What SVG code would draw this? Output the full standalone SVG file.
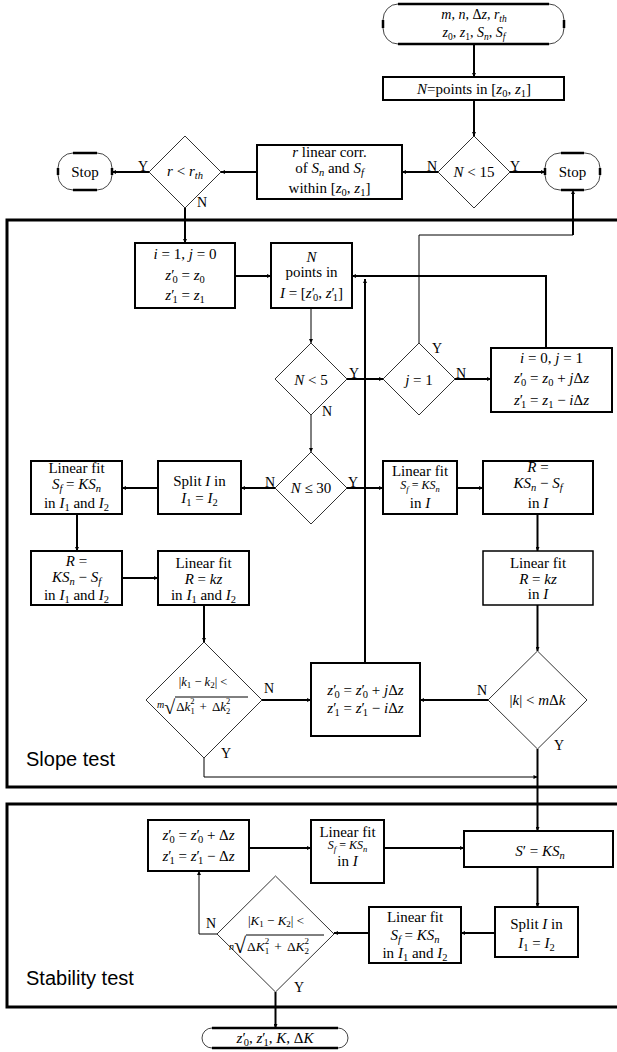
<svg xmlns="http://www.w3.org/2000/svg" width="617" height="1052" viewBox="0 0 617 1052">
<style>
.t{font-family:"Liberation Serif","Times New Roman",serif;font-size:15px;text-anchor:middle;fill:#000}
.ts{font-family:"Liberation Serif","Times New Roman",serif;fill:#000}
.i{font-style:italic}
.s{font-size:10.5px}
.lb{font-family:"Liberation Serif","Times New Roman",serif;font-size:14px;fill:#000;text-anchor:middle}
.sec{font-family:"Liberation Sans",Arial,sans-serif;font-size:20px;fill:#000}
.box{fill:#fff;stroke:#000;stroke-width:2}
.dia{fill:#fff;stroke:#333;stroke-width:1}
.arc{fill:#fff;stroke:#444;stroke-width:1}
.tk{stroke:#000;stroke-width:2.5;fill:none}
.c{fill:none;stroke:#000;stroke-width:2;marker-end:url(#ah)}
.cn{fill:none;stroke:#000;stroke-width:1;marker-end:url(#ah)}
.frame{fill:none;stroke:#000;stroke-width:3}
</style>
<defs>
<marker id="ah" viewBox="0 0 6 6" refX="6" refY="3" markerWidth="5" markerHeight="4" markerUnits="userSpaceOnUse" orient="auto"><path d="M0,0 L6,3 L0,6 z" fill="#000"/></marker>
</defs>
<rect id="rect" x="0" y="0" width="617" height="1052" fill="#fff"/>
<g id="frames">
<rect class="frame" x="7" y="220" width="630" height="567"/>
<rect class="frame" x="7" y="804" width="630" height="203"/>
<text class="sec" x="26" y="766">Slope test</text>
<text class="sec" x="26" y="985">Stability test</text>
</g>
<g id="start">
<rect class="arc" x="383" y="4" width="181" height="40" rx="15" ry="16"/>
<path class="tk" d="M398,4H549M398,44H549M383,20V28M564,20V28"/>
<text class="t" x="474" y="19" style="font-size:14px"><tspan class="i">m</tspan>, <tspan class="i">n</tspan>, Δ<tspan class="i">z</tspan>, <tspan class="i">r</tspan><tspan class="i" style="font-size:9.5px" dy="2.5">th</tspan></text>
<text class="t" x="474" y="37" style="font-size:14px"><tspan class="i">z</tspan><tspan style="font-size:9.5px" dy="2.5">0</tspan><tspan dy="-2.5">, </tspan><tspan class="i">z</tspan><tspan style="font-size:9.5px" dy="2.5">1</tspan><tspan dy="-2.5">, </tspan><tspan class="i">S</tspan><tspan class="i" style="font-size:9.5px" dy="2.5">n</tspan><tspan dy="-2.5">, </tspan><tspan class="i">S</tspan><tspan class="i" style="font-size:9.5px" dy="2.5">f</tspan></text>
</g>
<g id="npts">
<rect class="box" x="383" y="77" width="181" height="23"/>
<text class="t" x="474" y="94"><tspan class="i">N</tspan>=points in [<tspan class="i">z</tspan><tspan class="s" dy="3">0</tspan><tspan dy="-3">, </tspan><tspan class="i">z</tspan><tspan class="s" dy="3">1</tspan><tspan dy="-3">]</tspan></text>
</g>
<g id="d15">
<polygon class="dia" points="474,136 510,172 474,208 438,172"/>
<text class="t" x="474" y="177"><tspan class="i">N</tspan> &lt; 15</text>
</g>
<g id="stopR">
<rect class="arc" x="545" y="153" width="55" height="37" rx="15" ry="15"/>
<path class="tk" d="M561,153H584M561,190H584M545,168V175M600,168V175"/>
<text class="t" x="572.5" y="177">Stop</text>
</g>
<g id="rcorr">
<rect class="box" x="257" y="145" width="145" height="54"/>
<text class="t" x="329.5" y="157"><tspan class="i">r</tspan> linear corr.</text>
<text class="t" x="329.5" y="173">of <tspan class="i">S</tspan><tspan class="s i" dy="3">n</tspan><tspan dy="-3"> and </tspan><tspan class="i">S</tspan><tspan class="s i" dy="3">f</tspan></text>
<text class="t" x="329.5" y="193">within [<tspan class="i">z</tspan><tspan class="s" dy="3">0</tspan><tspan dy="-3">, </tspan><tspan class="i">z</tspan><tspan class="s" dy="3">1</tspan><tspan dy="-3">]</tspan></text>
</g>
<g id="drth">
<polygon class="dia" points="185,136 221,172 185,208 149,172"/>
<text class="t" x="185" y="176"><tspan class="i">r</tspan> &lt; <tspan class="i">r</tspan><tspan class="s i" dy="3">th</tspan></text>
</g>
<g id="stopL">
<rect class="arc" x="58" y="153" width="54" height="37" rx="15" ry="15"/>
<path class="tk" d="M73,153H97M73,190H97M58,168V175M112,168V175"/>
<text class="t" x="85" y="177">Stop</text>
</g>
<g id="init">
<rect class="box" x="135" y="243" width="100" height="65"/>
<text class="t" x="185" y="259"><tspan class="i">i</tspan> = 1, <tspan class="i">j</tspan> = 0</text>
<text class="t" x="185" y="280"><tspan class="i">z</tspan>′<tspan class="s" dx="-2" dy="3">0</tspan><tspan dy="-3"> = </tspan><tspan class="i">z</tspan><tspan class="s" dy="3">0</tspan></text>
<text class="t" x="185" y="300"><tspan class="i">z</tspan>′<tspan class="s" dx="-2" dy="3">1</tspan><tspan dy="-3"> = </tspan><tspan class="i">z</tspan><tspan class="s" dy="3">1</tspan></text>
</g>
<g id="npI">
<rect class="box" x="271" y="243" width="81" height="65"/>
<text class="t" x="311.5" y="262"><tspan class="i">N</tspan></text>
<text class="t" x="311.5" y="277">points in</text>
<text class="t" x="311.5" y="298"><tspan class="i">I</tspan> = [<tspan class="i">z</tspan>′<tspan class="s" dx="-2" dy="3">0</tspan><tspan dy="-3">, </tspan><tspan class="i">z</tspan>′<tspan class="s" dx="-2" dy="3">1</tspan><tspan dy="-3">]</tspan></text>
</g>
<g id="d5">
<polygon class="dia" points="311,343 347,379 311,415 275,379"/>
<text class="t" x="311" y="385"><tspan class="i">N</tspan> &lt; 5</text>
</g>
<g id="dj1">
<polygon class="dia" points="419,343 455,379 419,415 383,379"/>
<text class="t" x="419" y="385"><tspan class="i">j</tspan> = 1</text>
</g>
<g id="reset">
<rect class="box" x="491" y="348" width="121" height="64"/>
<text class="t" x="551.5" y="363"><tspan class="i">i</tspan> = 0, <tspan class="i">j</tspan> = 1</text>
<text class="t" x="551.5" y="383"><tspan class="i">z</tspan>′<tspan class="s" dx="-2" dy="3">0</tspan><tspan dy="-3"> = </tspan><tspan class="i">z</tspan><tspan class="s" dy="3">0</tspan><tspan dy="-3"> + </tspan><tspan class="i">j</tspan>Δ<tspan class="i">z</tspan></text>
<text class="t" x="551.5" y="405"><tspan class="i">z</tspan>′<tspan class="s" dx="-2" dy="3">1</tspan><tspan dy="-3"> = </tspan><tspan class="i">z</tspan><tspan class="s" dy="3">1</tspan><tspan dy="-3"> − </tspan><tspan class="i">i</tspan>Δ<tspan class="i">z</tspan></text>
</g>
<g id="d30">
<polygon class="dia" points="311,452 347,488 311,524 275,488"/>
<text class="t" x="311" y="493"><tspan class="i">N</tspan> ≤ 30</text>
</g>
<g id="split1">
<rect class="box" x="158" y="461" width="83" height="53"/>
<text class="t" x="199.5" y="486">Split <tspan class="i">I</tspan> in</text>
<text class="t" x="199.5" y="503"><tspan class="i">I</tspan><tspan class="s" dy="3">1</tspan><tspan dy="-3"> = </tspan><tspan class="i">I</tspan><tspan class="s" dy="3">2</tspan></text>
</g>
<g id="fitL1">
<rect class="box" x="31" y="461" width="91" height="53"/>
<text class="t" x="76.5" y="473">Linear fit</text>
<text class="t" x="76.5" y="489"><tspan class="i">S</tspan><tspan class="s i" dy="3">f</tspan><tspan dy="-3"> = </tspan><tspan class="i">KS</tspan><tspan class="s i" dy="3">n</tspan></text>
<text class="t" x="76.5" y="508">in <tspan class="i">I</tspan><tspan class="s" dy="3">1</tspan><tspan dy="-3"> and </tspan><tspan class="i">I</tspan><tspan class="s" dy="3">2</tspan></text>
</g>
<g id="fitR1">
<rect class="box" x="383" y="461" width="74" height="53"/>
<text class="t" x="420" y="476">Linear fit</text>
<text class="t" x="420" y="489" style="font-size:12px"><tspan class="i">S</tspan><tspan class="i" style="font-size:8.5px" dy="2.5">f</tspan><tspan dy="-2.5"> = </tspan><tspan class="i">KS</tspan><tspan class="i" style="font-size:8.5px" dy="2.5">n</tspan></text>
<text class="t" x="420" y="508">in <tspan class="i">I</tspan></text>
</g>
<g id="resR">
<rect class="box" x="483" y="461" width="110" height="53"/>
<text class="t" x="538" y="472"><tspan class="i">R</tspan> =</text>
<text class="t" x="538" y="488"><tspan class="i">KS</tspan><tspan class="s i" dy="3">n</tspan><tspan dy="-3"> − </tspan><tspan class="i">S</tspan><tspan class="s i" dy="3">f</tspan></text>
<text class="t" x="538" y="508">in <tspan class="i">I</tspan></text>
</g>
<g id="resL">
<rect class="box" x="31" y="551" width="91" height="54"/>
<text class="t" x="76.5" y="566"><tspan class="i">R</tspan> =</text>
<text class="t" x="76.5" y="582"><tspan class="i">KS</tspan><tspan class="s i" dy="3">n</tspan><tspan dy="-3"> − </tspan><tspan class="i">S</tspan><tspan class="s i" dy="3">f</tspan></text>
<text class="t" x="76.5" y="600">in <tspan class="i">I</tspan><tspan class="s" dy="3">1</tspan><tspan dy="-3"> and </tspan><tspan class="i">I</tspan><tspan class="s" dy="3">2</tspan></text>
</g>
<g id="fitL2">
<rect class="box" x="158" y="551" width="91" height="54"/>
<text class="t" x="203.5" y="568">Linear fit</text>
<text class="t" x="203.5" y="584"><tspan class="i">R</tspan> = <tspan class="i">kz</tspan></text>
<text class="t" x="203.5" y="600">in <tspan class="i">I</tspan><tspan class="s" dy="3">1</tspan><tspan dy="-3"> and </tspan><tspan class="i">I</tspan><tspan class="s" dy="3">2</tspan></text>
</g>
<g id="fitR2">
<rect class="box" x="483" y="551" width="110" height="54" style="stroke-width:1.5"/>
<text class="t" x="538" y="568">Linear fit</text>
<text class="t" x="538" y="584"><tspan class="i">R</tspan> = <tspan class="i">kz</tspan></text>
<text class="t" x="538" y="599">in <tspan class="i">I</tspan></text>
</g>
<g id="dk12">
<polygon class="dia" points="204,642 262,700 204,758 146,700"/>
<text class="t" x="203" y="686" style="font-size:12.5px">|<tspan class="i">k</tspan><tspan style="font-size:9px" dy="2">1</tspan><tspan dy="-2"> − </tspan><tspan class="i">k</tspan><tspan style="font-size:9px" dy="2">2</tspan><tspan dy="-2">| &lt;</tspan></text>
<line x1="175" y1="697" x2="248" y2="697" stroke="#000" stroke-width="1"/>
<text class="ts" x="157" y="708" style="font-size:13px"><tspan class="i" style="font-size:10px">m</tspan><tspan style="font-size:20px" dy="6">√</tspan><tspan dy="-3" dx="1">Δ</tspan><tspan class="i">k</tspan><tspan style="font-size:8.5px" dy="3">1</tspan><tspan style="font-size:8.5px" dx="-4.3" dy="-10">2</tspan><tspan dy="7" dx="5">+</tspan><tspan dx="5">Δ</tspan><tspan class="i">k</tspan><tspan style="font-size:8.5px" dy="3">2</tspan><tspan style="font-size:8.5px" dx="-4.3" dy="-10">2</tspan></text>
</g>
<g id="upd">
<rect class="box" x="311" y="663" width="109" height="73"/>
<text class="t" x="365.5" y="695"><tspan class="i">z</tspan>′<tspan class="s" dx="-2" dy="3">0</tspan><tspan dy="-3"> = </tspan><tspan class="i">z</tspan>′<tspan class="s" dx="-2" dy="3">0</tspan><tspan dy="-3"> + </tspan><tspan class="i">j</tspan>Δ<tspan class="i">z</tspan></text>
<text class="t" x="365.5" y="713"><tspan class="i">z</tspan>′<tspan class="s" dx="-2" dy="3">1</tspan><tspan dy="-3"> = </tspan><tspan class="i">z</tspan>′<tspan class="s" dx="-2" dy="3">1</tspan><tspan dy="-3"> − </tspan><tspan class="i">i</tspan>Δ<tspan class="i">z</tspan></text>
</g>
<g id="dk">
<polygon class="dia" points="537.5,651 587,700 537.5,749 488,700"/>
<text class="t" x="537.5" y="705">|<tspan class="i">k</tspan>| &lt; <tspan class="i">m</tspan>Δ<tspan class="i">k</tspan></text>
</g>
<g id="updS">
<rect class="box" x="148" y="820" width="101" height="51"/>
<text class="t" x="198.5" y="840"><tspan class="i">z</tspan>′<tspan class="s" dx="-2" dy="3">0</tspan><tspan dy="-3"> = </tspan><tspan class="i">z</tspan>′<tspan class="s" dx="-2" dy="3">0</tspan><tspan dy="-3"> + Δ</tspan><tspan class="i">z</tspan></text>
<text class="t" x="198.5" y="861"><tspan class="i">z</tspan>′<tspan class="s" dx="-2" dy="3">1</tspan><tspan dy="-3"> = </tspan><tspan class="i">z</tspan>′<tspan class="s" dx="-2" dy="3">1</tspan><tspan dy="-3"> − Δ</tspan><tspan class="i">z</tspan></text>
</g>
<g id="fitS1">
<rect class="box" x="311" y="820" width="73" height="63"/>
<text class="t" x="347.5" y="837">Linear fit</text>
<text class="t" x="347.5" y="849" style="font-size:12px"><tspan class="i">S</tspan><tspan class="i" style="font-size:8.5px" dy="2.5">f</tspan><tspan dy="-2.5"> = </tspan><tspan class="i">KS</tspan><tspan class="i" style="font-size:8.5px" dy="2.5">n</tspan></text>
<text class="t" x="347.5" y="866">in <tspan class="i">I</tspan></text>
</g>
<g id="sprime">
<rect class="box" x="464" y="831" width="149" height="36"/>
<text class="t" x="540" y="856"><tspan class="i">S</tspan>′ = <tspan class="i">KS</tspan><tspan class="s i" dy="3">n</tspan></text>
</g>
<g id="splitS">
<rect class="box" x="495" y="907" width="83" height="50"/>
<text class="t" x="536.5" y="929">Split <tspan class="i">I</tspan> in</text>
<text class="t" x="536.5" y="948"><tspan class="i">I</tspan><tspan class="s" dy="3">1</tspan><tspan dy="-3"> = </tspan><tspan class="i">I</tspan><tspan class="s" dy="3">2</tspan></text>
</g>
<g id="fitS2">
<rect class="box" x="369" y="907" width="92" height="56"/>
<text class="t" x="415" y="922">Linear fit</text>
<text class="t" x="415" y="940"><tspan class="i">S</tspan><tspan class="s i" dy="3">f</tspan><tspan dy="-3"> = </tspan><tspan class="i">KS</tspan><tspan class="s i" dy="3">n</tspan></text>
<text class="t" x="415" y="958">in <tspan class="i">I</tspan><tspan class="s" dy="3">1</tspan><tspan dy="-3"> and </tspan><tspan class="i">I</tspan><tspan class="s" dy="3">2</tspan></text>
</g>
<g id="dK">
<polygon class="dia" points="275.5,876 334,934 275.5,992 217,934"/>
<text class="t" x="276" y="925" style="font-size:13px">|<tspan class="i">K</tspan><tspan style="font-size:9px" dy="2">1</tspan><tspan dy="-2"> − </tspan><tspan class="i">K</tspan><tspan style="font-size:9px" dy="2">2</tspan><tspan dy="-2">| &lt;</tspan></text>
<line x1="246" y1="935" x2="324" y2="935" stroke="#000" stroke-width="1"/>
<text class="ts" x="229" y="950" style="font-size:13.5px"><tspan class="i" style="font-size:10px">n</tspan><tspan style="font-size:22px" dy="3">√</tspan><tspan dy="-2" dx="1">Δ</tspan><tspan class="i">K</tspan><tspan style="font-size:9px" dy="3">1</tspan><tspan style="font-size:9px" dx="-4.5" dy="-10">2</tspan><tspan dy="7" dx="5">+</tspan><tspan dx="5">Δ</tspan><tspan class="i">K</tspan><tspan style="font-size:9px" dy="3">2</tspan><tspan style="font-size:9px" dx="-4.5" dy="-10">2</tspan></text>
</g>
<g id="end">
<rect class="arc" x="202" y="1028" width="146" height="20" rx="10" ry="10"/>
<path class="tk" d="M212,1028H338M212,1048H338"/>
<text class="t" x="275" y="1043"><tspan class="i">z</tspan>′<tspan class="s" dx="-2" dy="3">0</tspan><tspan dy="-3">, </tspan><tspan class="i">z</tspan>′<tspan class="s" dx="-2" dy="3">1</tspan><tspan dy="-3">, </tspan><tspan class="i">K</tspan>, Δ<tspan class="i">K</tspan></text>
</g>
<g id="connectors">
<path class="c" d="M474,44V77"/>
<path class="c" d="M474,100V136"/>
<path class="c" d="M510,172H545"/>
<path class="c" d="M438,172H402"/>
<path class="c" d="M257,172H221"/>
<path class="c" d="M149,172H112"/>
<path class="c" d="M185,208V243"/>
<path class="c" d="M235,276H271"/>
<path class="cn" d="M311,308V343"/>
<path class="c" d="M347,379H383"/>
<path class="c" d="M455,379H491"/>
<path class="c" d="M546,348V276H352"/>
<path class="cn" d="M419,343V235H573V190"/>
<path d="M573,235V192" stroke="#000" stroke-width="2"/>
<path class="cn" d="M311,415V452"/>
<path class="c" d="M275,488H241"/>
<path class="c" d="M158,488H122"/>
<path class="c" d="M77,514V551"/>
<path class="c" d="M122,578H158"/>
<path class="c" d="M204,605V642"/>
<path class="c" d="M347,488H383"/>
<path class="c" d="M457,488H483"/>
<path class="c" d="M537.5,514V551"/>
<path class="c" d="M537.5,605V651"/>
<path class="c" d="M262,700H311"/>
<path class="c" d="M488,700H420"/>
<path class="c" d="M365,663V279"/>
<path class="cn" d="M204,758V777H537.5"/>
<path class="c" d="M537.5,749V831"/>
<path class="c" d="M249,848H311"/>
<path class="c" d="M384,848H464"/>
<path class="c" d="M537.5,867V907"/>
<path class="c" d="M495,933H461"/>
<path class="c" d="M369,933H334"/>
<path class="cn" d="M217,934H199V871"/>
<path class="c" d="M275.5,992V1028"/>
</g>
<g id="labels">
<text class="lb" x="432" y="171">N</text>
<text class="lb" x="515" y="171">Y</text>
<text class="lb" x="143" y="171">Y</text>
<text class="lb" x="202" y="207">N</text>
<text class="lb" x="354" y="378">Y</text>
<text class="lb" x="327" y="416">N</text>
<text class="lb" x="437" y="353">Y</text>
<text class="lb" x="461" y="378">N</text>
<text class="lb" x="270" y="487">N</text>
<text class="lb" x="353" y="487">Y</text>
<text class="lb" x="269" y="693">N</text>
<text class="lb" x="226" y="758">Y</text>
<text class="lb" x="482" y="695">N</text>
<text class="lb" x="559" y="750">Y</text>
<text class="lb" x="211" y="928">N</text>
<text class="lb" x="299" y="992">Y</text>
</g>
</svg>
